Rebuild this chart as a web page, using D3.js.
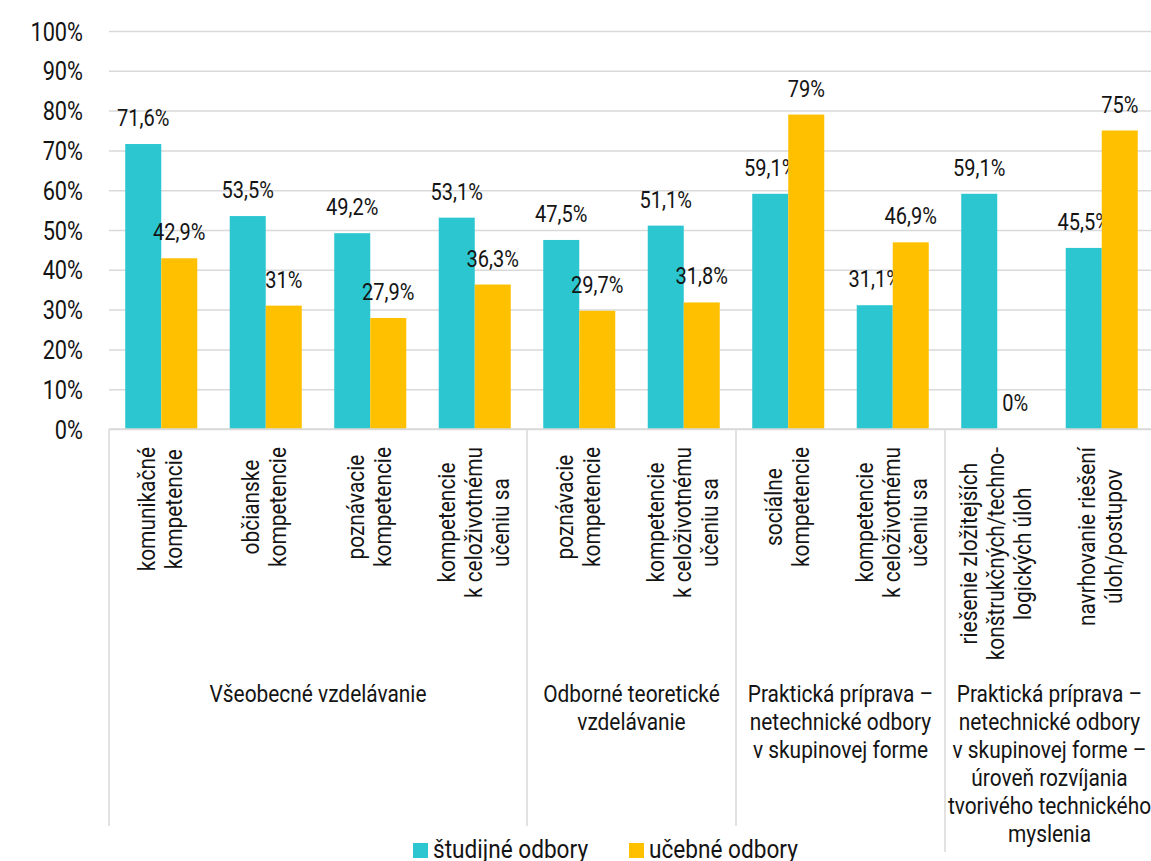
<!DOCTYPE html>
<html>
<head>
<meta charset="utf-8">
<script src="https://cdn.jsdelivr.net/npm/d3@7"></script>
<style>
  html, body { margin: 0; padding: 0; background: #fff; }
  svg { display: block; font-family: Roboto, "Noto Sans", sans-serif; }
</style>
</head>
<body>
<svg id="chart" width="1151" height="861"></svg>
<script>
// ---- data ----
const categories = [
  "komunikačné kompetencie",
  "občianske kompetencie",
  "poznávacie kompetencie (VV)",
  "kompetencie k celoživotnému učeniu sa (VV)",
  "poznávacie kompetencie (OTV)",
  "kompetencie k celoživotnému učeniu sa (OTV)",
  "sociálne kompetencie",
  "kompetencie k celoživotnému učeniu sa (PP)",
  "riešenie zložitejších konštrukčných/technologických úloh",
  "navrhovanie riešení úloh/postupov"
];
const categoryLines = [
  ["komunikačné", "kompetencie"],
  ["občianske", "kompetencie"],
  ["poznávacie", "kompetencie"],
  ["kompetencie", "k celoživotnému", "učeniu sa"],
  ["poznávacie", "kompetencie"],
  ["kompetencie", "k celoživotnému", "učeniu sa"],
  ["sociálne", "kompetencie"],
  ["kompetencie", "k celoživotnému", "učeniu sa"],
  ["riešenie zložitejších", "konštrukčných/techno-", "logických úloh"],
  ["navrhovanie riešení", "úloh/postupov"]
];
const groupLines = [
  ["Všeobecné vzdelávanie"],
  ["Odborné teoretické", "vzdelávanie"],
  ["Praktická príprava –", "netechnické odbory", "v skupinovej forme"],
  ["Praktická príprava –", "netechnické odbory", "v skupinovej forme –", "úroveň rozvíjania", "tvorivého technického", "myslenia"]
];
const groupSizes = [4, 2, 2, 2];
const seriesNames = ["študijné odbory", "učebné odbory"];
const studijne = [71.6, 53.5, 49.2, 53.1, 47.5, 51.1, 59.1, 31.1, 59.1, 45.5];
const ucebne   = [42.9, 31, 27.9, 36.3, 29.7, 31.8, 79, 46.9, 0, 75];
const yTicks = [0, 10, 20, 30, 40, 50, 60, 70, 80, 90, 100];

// ---- layout ----
const colors = ["#2CC6D1", "#FFC000"];
const textColor = "#141414";
const gridColor = "#d9d9d9";
const SX = 0.87; // horizontal condensing of the font
const plotLeft = 109, plotRight = 1154, plotTop = 31, plotBottom = 429;

const svg = d3.select("#chart");

const x0 = d3.scaleBand().domain(categories).range([plotLeft, plotRight]).padding(0);
const x1 = d3.scaleBand().domain(seriesNames).range([0, x0.bandwidth()]).paddingInner(0).paddingOuter(0.451);
const y = d3.scaleLinear().domain([0, 100]).range([plotBottom, plotTop]);

// gridlines
const grid = svg.append("g")
  .attr("transform", `translate(${plotLeft},0)`)
  .call(d3.axisLeft(y).tickValues(yTicks).tickSize(-(plotRight - plotLeft)).tickFormat(""));
grid.select(".domain").remove();
grid.selectAll("line").attr("stroke", gridColor).attr("stroke-width", 1.5);

// y-axis labels
const yAxis = svg.append("g")
  .attr("transform", `translate(${plotLeft},0)`)
  .call(d3.axisLeft(y).tickValues(yTicks).tickSize(0).tickFormat(d => d + "%"));
yAxis.select(".domain").remove();
yAxis.selectAll("text")
  .attr("x", null).attr("dy", null)
  .attr("transform", `translate(-26,9) scale(${SX},1)`)
  .attr("text-anchor", "end")
  .attr("fill", textColor)
  .style("font-size", "25px")
  .style("font-family", "Roboto");

// bars
const rows = categories.map((c, i) => ({ cat: c, vals: [studijne[i], ucebne[i]] }));
const barG = svg.append("g");
rows.forEach(r => {
  r.vals.forEach((v, si) => {
    const bx = x0(r.cat) + x1(seriesNames[si]);
    barG.append("rect")
      .attr("x", bx)
      .attr("y", y(v))
      .attr("width", x1.bandwidth())
      .attr("height", y(0) - y(v))
      .attr("fill", colors[si]);
    barG.append("text")
      .attr("transform", `translate(${bx + x1.bandwidth() / 2},${y(v) - 18}) scale(${SX},1)`)
      .attr("text-anchor", "middle")
      .attr("fill", textColor)
      .style("font-size", "23px")
      .text(String(v).replace(".", ",") + "%");
  });
});

// x axis line
svg.append("line")
  .attr("x1", plotLeft).attr("x2", plotRight)
  .attr("y1", y(0)).attr("y2", y(0))
  .attr("stroke", gridColor).attr("stroke-width", 1.5);

// category labels (rotated)
const catG = svg.append("g");
const lineStep = 27;
const labelTop = 447;
categories.forEach((c, i) => {
  const lines = categoryLines[i];
  const cx = x0(c) + x0.bandwidth() / 2;
  const tmp = catG.append("g");
  let maxLen = 0;
  lines.forEach(l => {
    const t = tmp.append("text").style("font-size", "24px").text(l);
    maxLen = Math.max(maxLen, t.node().getComputedTextLength() * SX);
  });
  tmp.remove();
  const cy = labelTop + maxLen / 2;
  const n = lines.length;
  lines.forEach((l, li) => {
    const bx = cx + 7 + (li - (n - 1) / 2) * lineStep;
    catG.append("text")
      .attr("transform", `translate(${bx},${cy}) rotate(-90) scale(${SX},1)`)
      .attr("text-anchor", "middle")
      .attr("fill", textColor)
      .style("font-size", "24px")
      .text(l);
  });
});

// group labels and separators
let start = 0;
const groupStarts = [];
groupSizes.forEach(s => { groupStarts.push(start); start += s; });
const groupBaseline = 702, groupStep = 28;
const groupLastBaseline = groupLines.map(g => groupBaseline + (g.length - 1) * groupStep);
const sepG = svg.append("g");
groupSizes.forEach((s, gi) => {
  const gx0 = x0(categories[groupStarts[gi]]);
  const gx1 = x0(categories[groupStarts[gi] + s - 1]) + x0.bandwidth();
  const gcx = (gx0 + gx1) / 2;
  groupLines[gi].forEach((l, li) => {
    svg.append("text")
      .attr("transform", `translate(${gcx},${groupBaseline + li * groupStep}) scale(${SX},1)`)
      .attr("text-anchor", "middle")
      .attr("fill", textColor)
      .style("font-size", "24px")
      .text(l);
  });
  const prevLast = gi > 0 ? groupLastBaseline[gi - 1] : 0;
  const bottom = Math.max(826, Math.max(prevLast, groupLastBaseline[gi]) + 10);
  sepG.append("line")
    .attr("x1", gx0).attr("x2", gx0)
    .attr("y1", y(0)).attr("y2", bottom)
    .attr("stroke", gridColor).attr("stroke-width", 1.5);
  if (gi === groupSizes.length - 1) {
    sepG.append("line")
      .attr("x1", gx1).attr("x2", gx1)
      .attr("y1", y(0)).attr("y2", bottom)
      .attr("stroke", gridColor).attr("stroke-width", 1.5);
  }
});

// legend
const legendItems = [{ x: 413, name: seriesNames[0], c: colors[0] }, { x: 629, name: seriesNames[1], c: colors[1] }];
const legG = svg.append("g");
legendItems.forEach(it => {
  legG.append("rect").attr("x", it.x).attr("y", 843).attr("width", 15).attr("height", 15).attr("fill", it.c);
  legG.append("text")
    .attr("transform", `translate(${it.x + 20},858) scale(${SX},1)`)
    .attr("fill", textColor)
    .style("font-size", "26px")
    .text(it.name);
});
</script>
</body>
</html>
